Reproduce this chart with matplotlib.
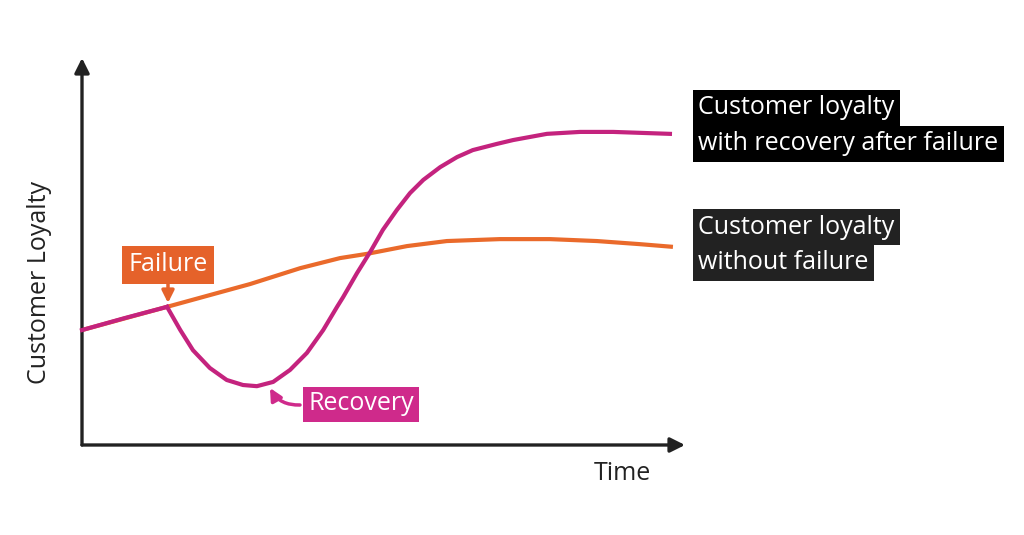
import numpy as np
import matplotlib.pyplot as plt
from matplotlib.patches import FancyArrowPatch

plt.rcParams['font.family'] = ['Open Sans', 'DejaVu Sans']

# data (time 0..100, loyalty 0..100)
t_recovery = [0, 7.1, 14.1, 16.3, 18.4, 21.2, 24.0, 26.7, 29.0, 31.7, 34.5, 37.3,
              40.0, 42.3, 43.3, 45.6, 47.8, 49.9, 52.2, 54.4, 56.6, 59.4, 62.2,
              64.8, 68.8, 71.5, 77.1, 82.6, 88.1, 93.7, 97.5]
loyalty_recovery = [29.7, 32.8, 35.7, 29.7, 24.5, 19.9, 16.8, 15.5, 15.2, 16.3, 19.4, 23.8,
                    29.7, 35.7, 38.2, 44.4, 49.9, 55.6, 60.7, 65.1, 68.5, 71.8, 74.4,
                    76.2, 77.8, 78.8, 80.4, 80.9, 80.9, 80.6, 80.4]
t_no_failure = [0, 14.1, 27.9, 36.2, 42.8, 47.3, 53.9, 60.5, 69.3, 77.6, 85.4, 92.5, 98.0]
loyalty_no_failure = [29.7, 35.7, 41.6, 45.7, 48.3, 49.4, 51.4, 52.7, 53.2, 53.2, 52.7,
                      51.9, 51.2]

orange = '#EA6A2B'
magenta = '#C4237E'

fig = plt.figure(figsize=(10.24, 5.35), dpi=100)
W, H = 1024, 535
ax = fig.add_axes([82 / W, 90 / H, 603 / W, 387 / H])
ax.set_xlim(0, 100)
ax.set_ylim(0, 100)
ax.axis('off')

# axes with arrows
for xy in [(100, 0), (0, 100)]:
    ax.annotate('', xy=xy, xytext=(0, 0), annotation_clip=False,
                arrowprops=dict(arrowstyle='-|>', lw=2.4, color='#222222',
                                mutation_scale=22, shrinkA=0, shrinkB=0))

ax.plot(t_no_failure, loyalty_no_failure, color=orange, lw=3, clip_on=False,
        solid_capstyle='butt', solid_joinstyle='round', zorder=2)
ax.plot(t_recovery[:3], loyalty_recovery[:3], color=magenta, lw=3, clip_on=False, zorder=3)
ax.plot(t_recovery[2:], loyalty_recovery[2:], color=magenta, lw=3, clip_on=False,
        solid_joinstyle='round', zorder=3)

fs = 18

fig.text(40 / W, 1 - 282 / H, 'Customer Loyalty', rotation=90, fontsize=fs,
         ha='center', va='center', color='#222222')
fig.text(622 / W, 1 - 474 / H, 'Time', fontsize=fs, ha='center', va='center',
         color='#222222')

# Failure label
fig.text(168 / W, 1 - 265 / H, 'Failure', fontsize=fs, ha='center', va='center',
         color='white', bbox=dict(boxstyle='square,pad=0.25', fc='#E5622A', ec='none'))
fig.add_artist(FancyArrowPatch((168 / W, 1 - 284 / H), (168 / W, 1 - 303 / H),
                               transform=fig.transFigure, arrowstyle='-|>',
                               mutation_scale=18, lw=2.5, color='#E5622A',
                               shrinkA=0, shrinkB=0))

# Recovery label
fig.text(361 / W, 1 - 404 / H, 'Recovery', fontsize=fs, ha='center', va='center',
         color='white', bbox=dict(boxstyle='square,pad=0.2', fc='#CF2A8B', ec='none'))
fig.add_artist(FancyArrowPatch((300 / W, 1 - 405 / H), (270 / W, 1 - 388 / H),
                               transform=fig.transFigure, arrowstyle='-|>',
                               connectionstyle='arc3,rad=-0.3',
                               mutation_scale=18, lw=2.5, color='#CF2A8B',
                               shrinkA=0, shrinkB=0))

# right side labels
labels = [('Customer loyalty', 107.5, 'black'),
          ('with recovery after failure', 144, 'black'),
          ('Customer loyalty', 227, '#222222'),
          ('without failure', 262.5, '#222222')]
for txt, y, bg in labels:
    fig.text(698 / W, 1 - y / H, txt, fontsize=fs, ha='left', va='center',
             color='white', bbox=dict(boxstyle='square,pad=0.22', fc=bg, ec='none'))

fig.savefig('out.png', dpi=100, facecolor='white')
